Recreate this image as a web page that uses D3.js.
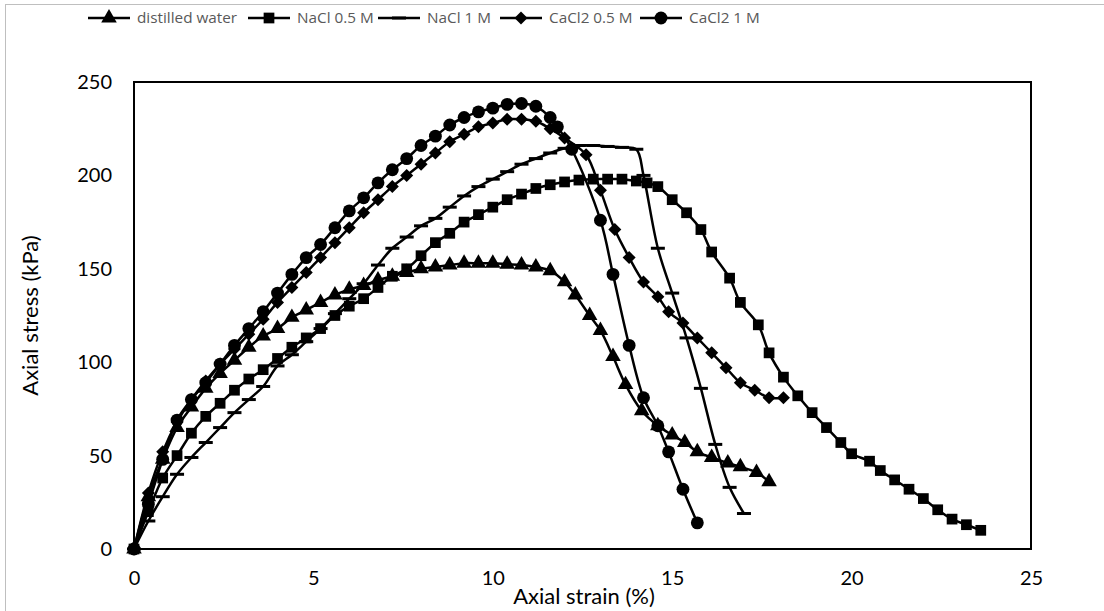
<!DOCTYPE html>
<html>
<head>
<meta charset="utf-8">
<script src="https://cdn.jsdelivr.net/npm/d3@7"></script>
<style>
  body { margin: 0; background: #fff; }
  svg { display: block; }
</style>
</head>
<body>
<div id="chart"></div>
<script>
// data
const seriesNames = ["distilled water", "NaCl 0.5 M", "NaCl 1 M", "CaCl2 0.5 M", "CaCl2 1 M"];

const waterStrain = [0, 0.4, 0.8, 1.2, 1.6, 2.0, 2.4, 2.8, 3.2, 3.6, 4.0, 4.4, 4.8, 5.2, 5.6, 6.0, 6.4, 6.8, 7.2, 7.6, 8.0, 8.4, 8.8, 9.2, 9.6, 10.0, 10.4, 10.8, 11.2, 11.6, 12.0, 12.3, 12.7, 13.0, 13.35, 13.7, 14.15, 14.6, 15.0, 15.35, 15.7, 16.1, 16.55, 16.9, 17.35, 17.7];
const waterStress = [0, 28, 48, 65, 76, 86, 94, 101, 108, 114, 118, 124, 128, 132, 136, 139, 141, 144, 146, 148, 150, 151, 152, 153, 153, 153, 152.5, 152, 151, 149, 143, 136, 125, 117, 103, 88, 74, 66, 61, 57, 52, 49, 46, 44, 41, 36];

const nacl05Strain = [0, 0.4, 0.8, 1.2, 1.6, 2.0, 2.4, 2.8, 3.2, 3.6, 4.0, 4.4, 4.8, 5.2, 5.6, 6.0, 6.4, 6.8, 7.2, 7.6, 8.0, 8.4, 8.8, 9.2, 9.6, 10.0, 10.4, 10.8, 11.2, 11.6, 12.0, 12.4, 12.8, 13.2, 13.6, 14.0, 14.3, 14.6, 15.0, 15.4, 15.8, 16.1, 16.6, 16.9, 17.4, 17.7, 18.1, 18.5, 18.9, 19.3, 19.7, 20.0, 20.5, 20.8, 21.2, 21.6, 22.0, 22.4, 22.8, 23.2, 23.6];
const nacl05Stress = [0, 20, 38, 50, 62, 71, 78, 85, 91, 96, 102, 108, 113, 118, 125, 130, 134, 140, 146, 150, 157, 164, 169, 175, 179, 183, 187, 190, 193, 195, 196.5, 197.5, 198, 198, 198, 197, 196, 194, 187, 180, 171, 159, 145, 132, 120, 105, 92, 82, 73, 65, 57, 51, 47, 42, 37, 32, 27, 21, 16, 13, 10];

const nacl1Strain = [0, 0.4, 0.8, 1.2, 1.6, 2.0, 2.4, 2.8, 3.2, 3.6, 4.0, 4.4, 4.8, 5.2, 5.6, 6.0, 6.4, 6.8, 7.2, 7.6, 8.0, 8.4, 8.8, 9.2, 9.6, 10.0, 10.4, 10.8, 11.2, 11.6, 12.0, 12.4, 12.8, 13.2, 13.6, 14.0, 14.2, 14.6, 15.0, 15.4, 15.8, 16.2, 16.6, 17.0];
const nacl1Stress = [0, 15, 28, 40, 49, 57, 65, 73, 80, 87, 98, 104, 111, 118, 126, 134, 142, 152, 161, 167, 173, 177, 183, 189, 194, 198, 202, 206, 209, 212, 214.5, 216, 216, 215.5, 215, 214, 200, 161, 137, 113, 86, 56, 33, 19];

const cacl05Strain = [0, 0.4, 0.8, 1.2, 1.6, 2.0, 2.4, 2.8, 3.2, 3.6, 4.0, 4.4, 4.8, 5.2, 5.6, 6.0, 6.4, 6.8, 7.2, 7.6, 8.0, 8.4, 8.8, 9.2, 9.6, 10.0, 10.4, 10.8, 11.2, 11.6, 12.0, 12.6, 13.0, 13.4, 13.8, 14.2, 14.6, 14.9, 15.3, 15.7, 16.1, 16.5, 16.9, 17.3, 17.7, 18.1];
const cacl05Stress = [0, 30, 52, 68, 80, 90, 99, 107, 115, 123, 132, 140, 148, 156, 164, 172, 180, 187, 194, 200, 206, 212, 218, 222, 226, 228, 230, 230, 229, 225, 220, 211, 192, 171, 156, 143, 135, 127, 121, 113, 105, 97, 89, 85, 81, 81];

const cacl1Strain = [0, 0.4, 0.8, 1.2, 1.6, 2.0, 2.4, 2.8, 3.2, 3.6, 4.0, 4.4, 4.8, 5.2, 5.6, 6.0, 6.4, 6.8, 7.2, 7.6, 8.0, 8.4, 8.8, 9.2, 9.6, 10.0, 10.4, 10.8, 11.2, 11.6, 11.8, 12.2, 13.0, 13.35, 13.8, 14.2, 14.6, 14.9, 15.3, 15.7];
const cacl1Stress = [0, 24, 48, 69, 80, 89, 99, 109, 118, 127, 137, 147, 156, 163, 172, 181, 188, 196, 203, 209, 216, 221, 227, 231, 234, 236, 238, 238.5, 237, 231, 226, 214, 176, 147, 109, 81, 66, 52, 32, 14];

const xTicks = [0, 5, 10, 15, 20, 25];
const yTicks = [0, 50, 100, 150, 200, 250];

const strains = [waterStrain, nacl05Strain, nacl1Strain, cacl05Strain, cacl1Strain];
const stresses = [waterStress, nacl05Stress, nacl1Stress, cacl05Stress, cacl1Stress];
const markers = ["triangle", "square", "dash", "diamond", "circle"];

const width = 1104;
const height = 611;
const margin = { top: 82, right: 73, bottom: 62, left: 134 };
const font = "Lato, 'Open Sans', sans-serif";

const svg = d3.select("#chart")
    .append("svg")
    .attr("width", width)
    .attr("height", height);

// outer chart border
svg.append("rect")
    .attr("x", 5.5)
    .attr("y", 4.5)
    .attr("width", 1120)
    .attr("height", 640)
    .attr("fill", "none")
    .attr("stroke", "#bfbfbf");

const x = d3.scaleLinear()
    .domain([0, 25])
    .range([margin.left, width - margin.right]);

const y = d3.scaleLinear()
    .domain([0, 250])
    .range([height - margin.bottom, margin.top]);

// axes
const xAxis = svg.append("g")
    .attr("transform", `translate(0,${y(0)})`)
    .call(d3.axisBottom(x).tickValues(xTicks).tickSize(0).tickPadding(22));
xAxis.select(".domain").remove();
xAxis.selectAll("text")
    .attr("font-family", font)
    .attr("font-size", 20)
    .attr("fill", "#000");

const yAxis = svg.append("g")
    .attr("transform", `translate(${x(0)},0)`)
    .call(d3.axisLeft(y).tickValues(yTicks).tickSize(0).tickPadding(22));
yAxis.select(".domain").remove();
yAxis.selectAll("text")
    .attr("font-family", font)
    .attr("font-size", 20)
    .attr("fill", "#000");

// plot frame
svg.append("rect")
    .attr("x", x(0))
    .attr("y", y(250))
    .attr("width", x(25) - x(0))
    .attr("height", y(0) - y(250))
    .attr("fill", "none")
    .attr("stroke", "#000")
    .attr("stroke-width", 2);

// axis titles
svg.append("text")
    .attr("x", 584)
    .attr("y", 604)
    .attr("text-anchor", "middle")
    .attr("font-family", font)
    .attr("font-size", 22)
    .text("Axial strain (%)");

svg.append("text")
    .attr("transform", `translate(38,${(y(0) + y(250)) / 2}) rotate(-90)`)
    .attr("text-anchor", "middle")
    .attr("font-family", font)
    .attr("font-size", 22)
    .text("Axial stress (kPa)");

function drawMarker(g, type) {
    if (type === "dash") {
        g.append("rect")
            .attr("x", -7).attr("y", -1.5)
            .attr("width", 14).attr("height", 3)
            .attr("fill", "#000");
        return;
    }
    if (type === "diamond") {
        g.append("path")
            .attr("d", "M0,-6.5L6.5,0L0,6.5L-6.5,0Z")
            .attr("fill", "#000");
        return;
    }
    const sym = {
        triangle: d3.symbolTriangle,
        square: d3.symbolSquare,
        circle: d3.symbolCircle
    }[type];
    const size = { triangle: 105, square: 115, circle: 130 }[type];
    g.append("path")
        .attr("d", d3.symbol().type(sym).size(size)())
        .attr("fill", "#000");
}

const line = d3.line()
    .x(d => x(d[0]))
    .y(d => y(d[1]))
    .curve(d3.curveCatmullRom.alpha(0.5));

// series
seriesNames.forEach((name, i) => {
    const pts = strains[i].map((s, j) => [s, stresses[i][j]]);
    const g = svg.append("g").attr("class", "series");
    g.append("path")
        .datum(pts)
        .attr("d", line)
        .attr("fill", "none")
        .attr("stroke", "#000")
        .attr("stroke-width", 2.5);
    g.selectAll(".pt")
        .data(pts)
        .enter()
        .append("g")
        .attr("class", "pt")
        .attr("transform", d => `translate(${x(d[0])},${y(d[1])})`)
        .each(function() { drawMarker(d3.select(this), markers[i]); });
});

// legend
const legendX = [88, 248, 378, 500, 640];
const legend = svg.append("g").attr("transform", "translate(0,18)");
seriesNames.forEach((name, i) => {
    const item = legend.append("g").attr("transform", `translate(${legendX[i]},0)`);
    item.append("line")
        .attr("x1", 0).attr("x2", 42)
        .attr("stroke", "#000")
        .attr("stroke-width", 2.5);
    drawMarker(item.append("g").attr("transform", "translate(21,0)"), markers[i]);
    item.append("text")
        .attr("x", 49)
        .attr("dy", "0.35em")
        .attr("font-family", "'Open Sans', sans-serif")
        .attr("font-size", 15.3)
        .attr("fill", "#595959")
        .text(name);
});
</script>
</body>
</html>
